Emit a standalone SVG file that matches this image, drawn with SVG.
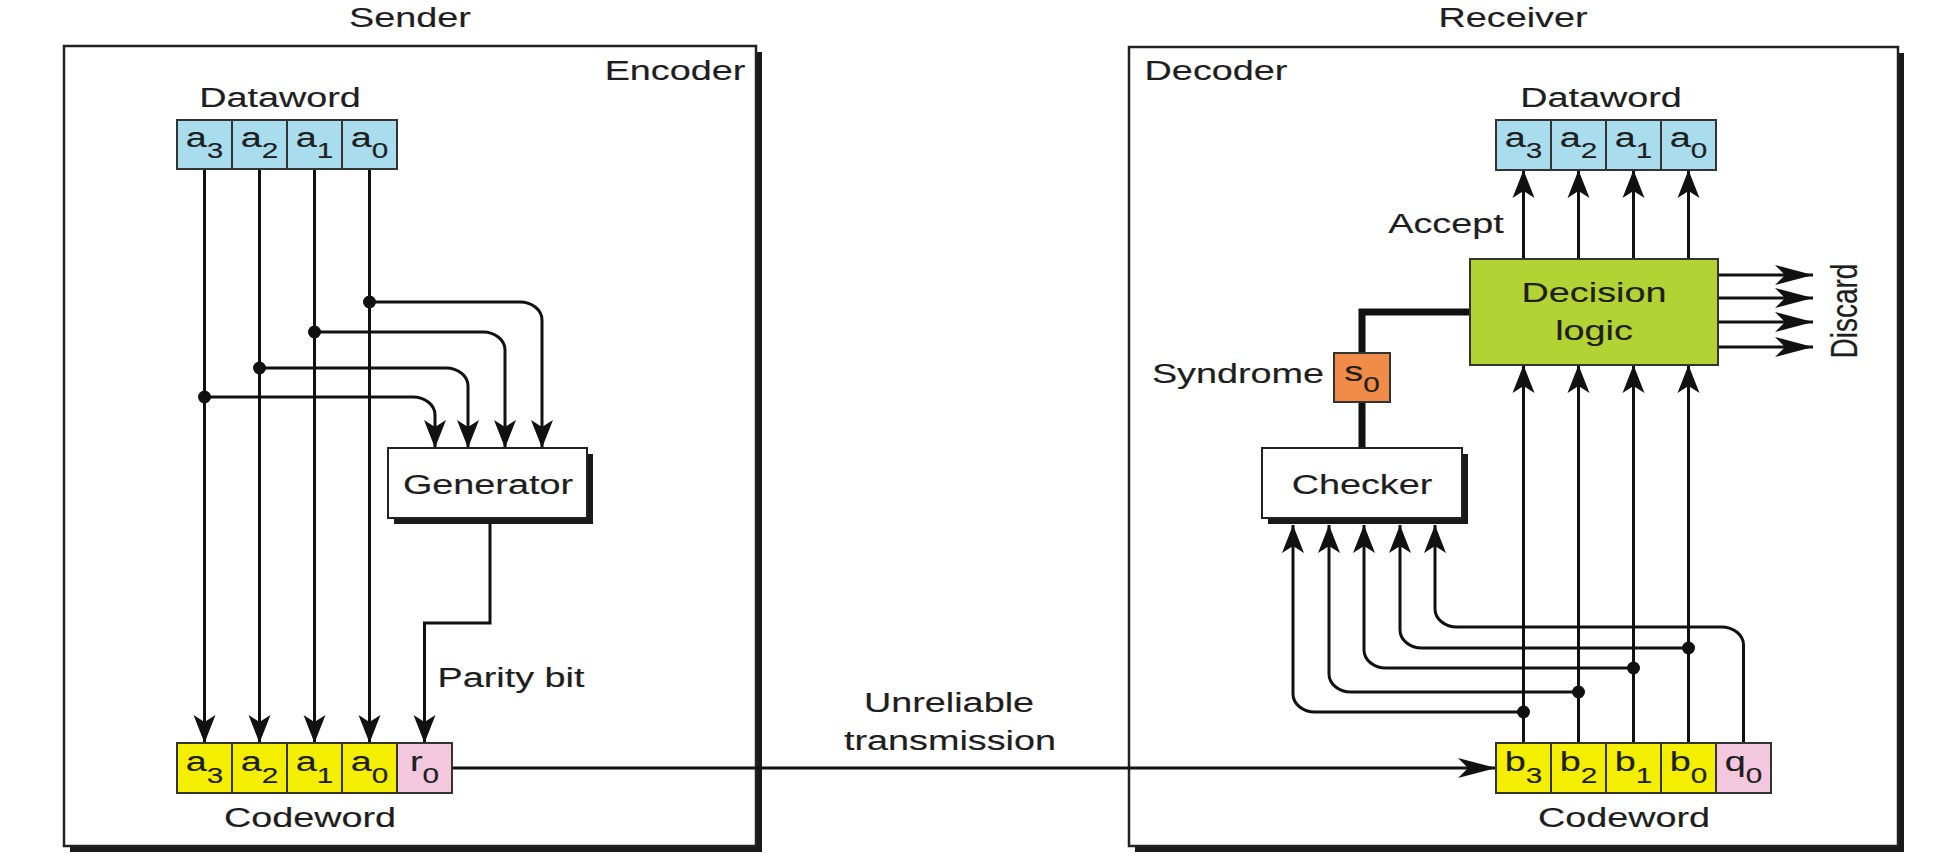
<svg xmlns="http://www.w3.org/2000/svg" width="1934" height="864" viewBox="0 0 1934 864">
<style>
text{font-family:"Liberation Sans",Arial,sans-serif;font-size:28px;fill:#1e1e1e;text-anchor:middle;stroke:#1e1e1e;stroke-width:0.15}
.sub{font-size:22px}
.frame{fill:#fff;stroke:#222;stroke-width:2.5}
.shadow{fill:#1a1a1a}
.cell{stroke:#333;stroke-width:2}
.blue{fill:#a9dcec}
.yel{fill:#f4ef00}
.pink{fill:#f3c8df}
.wire{fill:none;stroke:#111;stroke-width:3}
.av{marker-end:url(#av)}
.ah{marker-end:url(#ah)}
.dot{fill:#111}
</style>
<defs>
<marker id="av" markerUnits="userSpaceOnUse" viewBox="-1 -12 30 24" markerWidth="30" markerHeight="24" refX="28" refY="0" orient="auto">
<path d="M0,-11 L28,0 L0,11 L7,0 Z" fill="#111"/>
</marker>
<marker id="ah" markerUnits="userSpaceOnUse" viewBox="-1 -11 40 22" markerWidth="40" markerHeight="22" refX="38" refY="0" orient="auto">
<path d="M0,-10 L38,0 L0,10 L10,0 Z" fill="#111"/>
</marker>
</defs>
<rect width="1934" height="864" fill="#fff"/>

<g id="sender">
<text transform="translate(410,27) scale(1.35,1)">Sender</text>
<rect class="shadow" x="70" y="52" width="692" height="800"/>
<rect class="frame" x="64" y="46" width="692" height="800"/>
<text transform="translate(675,80) scale(1.35,1)">Encoder</text>
</g>

<g id="receiver">
<text transform="translate(1513,27) scale(1.35,1)">Receiver</text>
<rect class="shadow" x="1135" y="53" width="769" height="799"/>
<rect class="frame" x="1129" y="47" width="769" height="799"/>
<text transform="translate(1216,80) scale(1.35,1)">Decoder</text>
</g>

<g id="connectors">
<path class="wire av" d="M204.5 169 V743"/>
<path class="wire av" d="M259.5 169 V743"/>
<path class="wire av" d="M314.5 169 V743"/>
<path class="wire av" d="M369.5 169 V743"/>
<path class="wire av" d="M369.5 302 H520 A22 18 0 0 1 542 320 V448"/>
<path class="wire av" d="M314.5 332 H483 A22 18 0 0 1 505 350 V448"/>
<path class="wire av" d="M259.5 368 H446 A22 18 0 0 1 468 386 V448"/>
<path class="wire av" d="M204.5 397 H413 A22 18 0 0 1 435 415 V448"/>
<path class="wire av" d="M490 520 V623 H424.5 V743"/>
<path class="wire ah" d="M452 768 H1496"/>
<path class="wire av" d="M1523.5 743 V365"/>
<path class="wire av" d="M1578.5 743 V365"/>
<path class="wire av" d="M1633.5 743 V365"/>
<path class="wire av" d="M1688.5 743 V365"/>
<path class="wire av" d="M1523.5 259 V170"/>
<path class="wire av" d="M1578.5 259 V170"/>
<path class="wire av" d="M1633.5 259 V170"/>
<path class="wire av" d="M1688.5 259 V170"/>
<path class="wire ah" d="M1718 275 H1813"/>
<path class="wire ah" d="M1718 298 H1813"/>
<path class="wire ah" d="M1718 322 H1813"/>
<path class="wire ah" d="M1718 347 H1813"/>
<path fill="none" stroke="#111" stroke-width="7" d="M1470 312 H1362 V448"/>
<path class="wire av" d="M1523.5 712 H1315 A22 18 0 0 1 1293 694 V525"/>
<path class="wire av" d="M1578.5 692 H1351 A22 18 0 0 1 1329 674 V525"/>
<path class="wire av" d="M1633.5 668 H1386 A22 18 0 0 1 1364 650 V525"/>
<path class="wire av" d="M1688.5 648 H1422 A22 18 0 0 1 1400 630 V525"/>
<path class="wire av" d="M1743.5 743 V645 A22 18 0 0 0 1721.5 627 H1457 A22 18 0 0 1 1435 609 V525"/>
<circle class="dot" cx="369.5" cy="302" r="6.5"/>
<circle class="dot" cx="314.5" cy="332" r="6.5"/>
<circle class="dot" cx="259.5" cy="368" r="6.5"/>
<circle class="dot" cx="204.5" cy="397" r="6.5"/>
<circle class="dot" cx="1523.5" cy="712" r="6.5"/>
<circle class="dot" cx="1578.5" cy="692" r="6.5"/>
<circle class="dot" cx="1633.5" cy="668" r="6.5"/>
<circle class="dot" cx="1688.5" cy="648" r="6.5"/>
</g>

<g id="labels">
<text transform="translate(511,687) scale(1.35,1)">Parity bit</text>
<text transform="translate(949,712) scale(1.35,1)">Unreliable</text>
<text transform="translate(950,750) scale(1.35,1)">transmission</text>
<text transform="translate(1446,233) scale(1.35,1)">Accept</text>
<text transform="translate(1857,311) scale(1.35,1) rotate(-90)">Discard</text>
</g>

<g id="dataword-tx">
<text transform="translate(280,107) scale(1.35,1)">Dataword</text>
<rect class="cell blue" x="177" y="120" width="55" height="49"/>
<rect class="cell blue" x="232" y="120" width="55" height="49"/>
<rect class="cell blue" x="287" y="120" width="55" height="49"/>
<rect class="cell blue" x="342" y="120" width="55" height="49"/>
<text transform="translate(204.5,147) scale(1.35,1)">a<tspan class="sub" dy="11">3</tspan></text>
<text transform="translate(259.5,147) scale(1.35,1)">a<tspan class="sub" dy="11">2</tspan></text>
<text transform="translate(314.5,147) scale(1.35,1)">a<tspan class="sub" dy="11">1</tspan></text>
<text transform="translate(369.5,147) scale(1.35,1)">a<tspan class="sub" dy="11">0</tspan></text>
</g>

<g id="generator">
<rect class="shadow" x="394" y="454" width="199" height="70"/>
<rect class="frame" x="388" y="448" width="199" height="70" style="stroke-width:2"/>
<text transform="translate(488,494) scale(1.35,1)">Generator</text>
</g>

<g id="codeword-tx">
<rect class="cell yel" x="177" y="743" width="55" height="50"/>
<rect class="cell yel" x="232" y="743" width="55" height="50"/>
<rect class="cell yel" x="287" y="743" width="55" height="50"/>
<rect class="cell yel" x="342" y="743" width="55" height="50"/>
<rect class="cell pink" x="397" y="743" width="55" height="50"/>
<text transform="translate(204.5,771) scale(1.35,1)">a<tspan class="sub" dy="12">3</tspan></text>
<text transform="translate(259.5,771) scale(1.35,1)">a<tspan class="sub" dy="12">2</tspan></text>
<text transform="translate(314.5,771) scale(1.35,1)">a<tspan class="sub" dy="12">1</tspan></text>
<text transform="translate(369.5,771) scale(1.35,1)">a<tspan class="sub" dy="12">0</tspan></text>
<text transform="translate(424.5,771) scale(1.35,1)">r<tspan class="sub" dy="12">0</tspan></text>
<text transform="translate(310,827) scale(1.35,1)">Codeword</text>
</g>

<g id="dataword-rx">
<text transform="translate(1601,107) scale(1.35,1)">Dataword</text>
<rect class="cell blue" x="1496" y="120" width="55" height="50"/>
<rect class="cell blue" x="1551" y="120" width="55" height="50"/>
<rect class="cell blue" x="1606" y="120" width="55" height="50"/>
<rect class="cell blue" x="1661" y="120" width="55" height="50"/>
<text transform="translate(1523.5,147) scale(1.35,1)">a<tspan class="sub" dy="11">3</tspan></text>
<text transform="translate(1578.5,147) scale(1.35,1)">a<tspan class="sub" dy="11">2</tspan></text>
<text transform="translate(1633.5,147) scale(1.35,1)">a<tspan class="sub" dy="11">1</tspan></text>
<text transform="translate(1688.5,147) scale(1.35,1)">a<tspan class="sub" dy="11">0</tspan></text>
</g>

<g id="decision-logic">
<rect x="1470" y="259" width="248" height="106" fill="#b3d334" stroke="#333" stroke-width="2"/>
<text transform="translate(1594,302) scale(1.35,1)">Decision</text>
<text transform="translate(1594,340) scale(1.35,1)">logic</text>
</g>

<g id="syndrome">
<text transform="translate(1238,383) scale(1.35,1)">Syndrome</text>
<rect x="1334" y="353" width="56" height="49" fill="#f08c48" stroke="#333" stroke-width="2"/>
<text transform="translate(1362,381) scale(1.35,1)">s<tspan class="sub" dy="11">0</tspan></text>
</g>

<g id="checker">
<rect class="shadow" x="1268" y="454" width="200" height="70"/>
<rect class="frame" x="1262" y="448" width="200" height="70" style="stroke-width:2"/>
<text transform="translate(1362,494) scale(1.35,1)">Checker</text>
</g>

<g id="codeword-rx">
<rect class="cell yel" x="1496" y="743" width="55" height="50"/>
<rect class="cell yel" x="1551" y="743" width="55" height="50"/>
<rect class="cell yel" x="1606" y="743" width="55" height="50"/>
<rect class="cell yel" x="1661" y="743" width="55" height="50"/>
<rect class="cell pink" x="1716" y="743" width="55" height="50"/>
<text transform="translate(1523.5,771) scale(1.35,1)">b<tspan class="sub" dy="12">3</tspan></text>
<text transform="translate(1578.5,771) scale(1.35,1)">b<tspan class="sub" dy="12">2</tspan></text>
<text transform="translate(1633.5,771) scale(1.35,1)">b<tspan class="sub" dy="12">1</tspan></text>
<text transform="translate(1688.5,771) scale(1.35,1)">b<tspan class="sub" dy="12">0</tspan></text>
<text transform="translate(1743.5,771) scale(1.35,1)">q<tspan class="sub" dy="12">0</tspan></text>
<text transform="translate(1624,827) scale(1.35,1)">Codeword</text>
</g>
</svg>
